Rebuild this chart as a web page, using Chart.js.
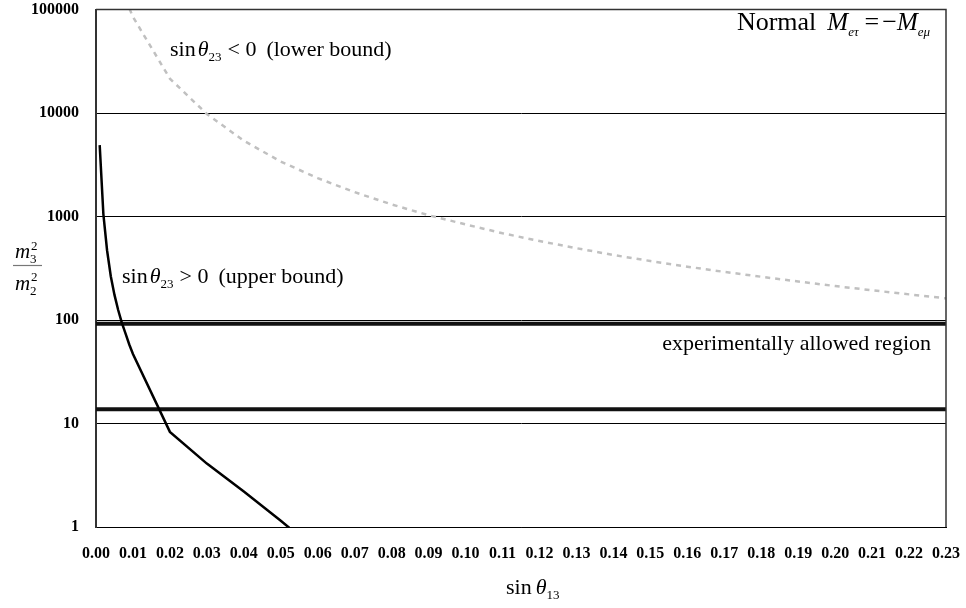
<!DOCTYPE html>
<html lang="en">
<head>
<meta charset="UTF-8">
<title>m3^2 / m2^2 versus sin theta13</title>
<script src="https://cdn.jsdelivr.net/npm/chart.js"></script>
<style>
  html, body { margin: 0; padding: 0; background: #fff; }
</style>
</head>
<body>
<canvas id="massChart" width="966" height="608"></canvas>
<script>
// tick labels
var xTicks = [0.00, 0.01, 0.02, 0.03, 0.04, 0.05, 0.06, 0.07, 0.08, 0.09, 0.10, 0.11,
              0.12, 0.13, 0.14, 0.15, 0.16, 0.17, 0.18, 0.19, 0.20, 0.21, 0.22, 0.23];
var yTicks = [1, 10, 100, 1000, 10000, 100000];

// sin(theta23) < 0 : lower bound (grey dashed)
var lowerX = [0.008, 0.010, 0.020, 0.030, 0.040, 0.050, 0.060, 0.070, 0.080, 0.090, 0.100, 0.110,
              0.120, 0.130, 0.140, 0.150, 0.160, 0.170, 0.180, 0.190, 0.200, 0.210, 0.220, 0.230];
var lowerY = [125000, 85000, 21500, 9800, 5400, 3400, 2350, 1720, 1310, 1030, 840, 690,
              580, 495, 425, 372, 328, 292, 262, 236, 213, 194, 177, 162];

// sin(theta23) > 0 : upper bound (black)
var upperX = [0.001, 0.002, 0.003, 0.004, 0.005, 0.006, 0.007, 0.008, 0.009, 0.010,
              0.020, 0.030, 0.040, 0.050, 0.060];
var upperY = [4900, 1050, 470, 265, 175, 125, 94, 74, 58, 47,
              8.3, 4.1, 2.2, 1.15, 0.58];

// experimentally allowed region (two horizontal limits)
var bandLimits = [13.7, 92];

function pts(xs, ys) {
  return xs.map(function (x, i) { return { x: x, y: ys[i] }; });
}

var SERIF = '"Liberation Serif", "Times New Roman", serif';

function drawParts(ctx, x, y, parts, alignRight) {
  var total = 0;
  parts.forEach(function (p) {
    ctx.font = p.f;
    total += ctx.measureText(p.t).width + (p.sp || 0);
  });
  if (alignRight) x -= total;
  parts.forEach(function (p) {
    ctx.font = p.f;
    ctx.fillText(p.t, x, y + (p.dy || 0));
    x += ctx.measureText(p.t).width + (p.sp || 0);
  });
}

var textPlugin = {
  id: 'textPlugin',
  afterDraw: function (chart) {
    var ctx = chart.ctx;
    var a = chart.chartArea;
    ctx.save();
    // frame top / right
    ctx.strokeStyle = '#333';
    ctx.lineWidth = 1.5;
    ctx.beginPath();
    ctx.moveTo(a.left, a.top);
    ctx.lineTo(a.right, a.top);
    ctx.lineTo(a.right, a.bottom);
    ctx.stroke();

    ctx.fillStyle = '#000';
    ctx.textBaseline = 'alphabetic';
    ctx.textAlign = 'left';
    var R = '22px ' + SERIF, I = 'italic 22px ' + SERIF, S = '13px ' + SERIF;

    drawParts(ctx, 170, 56, [
      { t: 'sin', f: R, sp: 2 }, { t: '\u03b8', f: I }, { t: '23', f: S, dy: 5, sp: 6 },
      { t: '< 0', f: R, sp: 10 }, { t: '(lower bound)', f: R }
    ]);
    drawParts(ctx, 122, 283, [
      { t: 'sin', f: R, sp: 2 }, { t: '\u03b8', f: I }, { t: '23', f: S, dy: 5, sp: 6 },
      { t: '> 0', f: R, sp: 10 }, { t: '(upper bound)', f: R }
    ]);
    drawParts(ctx, 931, 350, [{ t: 'experimentally allowed region', f: R }], true);

    var N = '26px ' + SERIF, MI = 'italic 25px ' + SERIF, SI = 'italic 13px ' + SERIF;
    drawParts(ctx, 930, 30, [
      { t: 'Normal', f: N, sp: 11 }, { t: 'M', f: MI }, { t: 'e\u03c4', f: SI, dy: 6, sp: 6 },
      { t: '=', f: N, sp: 3 }, { t: '\u2212', f: N, sp: 0 }, { t: 'M', f: MI }, { t: 'e\u03bc', f: SI, dy: 6 }
    ], true);

    // x title
    drawParts(ctx, 506, 594, [
      { t: 'sin', f: R, sp: 4 }, { t: '\u03b8', f: I }, { t: '13', f: S, dy: 5 }
    ]);

    // y title as fraction m3^2 / m2^2
    ctx.font = 'italic 21px ' + SERIF;
    ctx.fillText('m', 15, 258);
    ctx.fillText('m', 15, 290);
    ctx.font = S;
    ctx.fillText('2', 31, 250);
    ctx.fillText('3', 30, 263);
    ctx.fillText('2', 31, 281);
    ctx.fillText('2', 30, 295);
    ctx.strokeStyle = '#777';
    ctx.lineWidth = 1.2;
    ctx.beginPath();
    ctx.moveTo(13, 265.5);
    ctx.lineTo(42, 265.5);
    ctx.stroke();
    ctx.restore();
  }
};

var ctx = document.getElementById('massChart').getContext('2d');
var massChart = new Chart(ctx, {
  type: 'line',
  data: {
    datasets: [
      {
        label: 'lower bound',
        data: pts(lowerX, lowerY),
        borderColor: '#c0c0c0',
        borderWidth: 2.5,
        borderDash: [5, 5],
        pointRadius: 0,
        tension: 0
      },
      {
        label: 'upper bound',
        data: pts(upperX, upperY),
        borderColor: '#000',
        borderWidth: 2.5,
        pointRadius: 0,
        tension: 0
      },
      {
        label: 'allowed low',
        data: [{ x: xTicks[0], y: bandLimits[0] }, { x: xTicks[xTicks.length - 1], y: bandLimits[0] }],
        borderColor: '#111',
        borderWidth: 4,
        pointRadius: 0
      },
      {
        label: 'allowed high',
        data: [{ x: xTicks[0], y: bandLimits[1] }, { x: xTicks[xTicks.length - 1], y: bandLimits[1] }],
        borderColor: '#111',
        borderWidth: 4,
        pointRadius: 0
      }
    ]
  },
  options: {
    responsive: false,
    animation: false,
    devicePixelRatio: 1,
    layout: { padding: { left: 0, right: 20, top: 9, bottom: 0 } },
    plugins: {
      legend: { display: false },
      tooltip: { enabled: false }
    },
    scales: {
      x: {
        type: 'linear',
        min: 0,
        max: 0.23,
        afterBuildTicks: function (scale) {
          scale.ticks = xTicks.map(function (v) { return { value: v }; });
        },
        afterFit: function (scale) { scale.height = 81; },
        grid: { display: true, drawOnChartArea: false, tickLength: 17, tickColor: 'rgba(0,0,0,0)' },
        border: { display: true, color: '#000', width: 1 },
        ticks: {
          autoSkip: false,
          maxRotation: 0,
          padding: 0,
          color: '#000',
          font: { family: SERIF, size: 16, weight: 'bold' },
          callback: function (v) { return Number(v).toFixed(2); }
        }
      },
      y: {
        type: 'logarithmic',
        min: 1,
        max: 100000,
        afterBuildTicks: function (scale) {
          scale.ticks = yTicks.map(function (v) { return { value: v }; });
        },
        afterFit: function (scale) { scale.width = 96; },
        grid: { color: '#000', lineWidth: 1, drawTicks: true, tickLength: 17, tickColor: 'rgba(0,0,0,0)' },
        border: { display: true, color: '#333', width: 2 },
        ticks: {
          padding: 0,
          color: '#000',
          font: { family: SERIF, size: 16, weight: 'bold' },
          callback: function (v) { return String(v); }
        }
      }
    }
  },
  plugins: [textPlugin]
});
</script>
</body>
</html>
